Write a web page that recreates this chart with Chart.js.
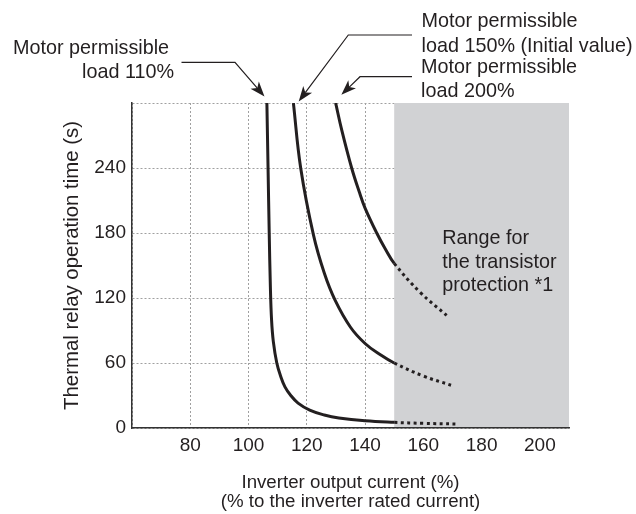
<!DOCTYPE html>
<html>
<head>
<meta charset="utf-8">
<script src="https://cdn.jsdelivr.net/npm/chart.js@4.4.1/dist/chart.umd.min.js"></script>
<style>
  html, body { margin: 0; padding: 0; background: #fff; }
</style>
</head>
<body>
<canvas id="thermalChart" width="636" height="514"></canvas>
<script>
// 軸の目盛り
const xTicks = [80, 100, 120, 140, 160, 180, 200];
const yTicks = [0, 60, 120, 180, 240, 300];

// 各曲線: [出力電流 %, 動作時間 s]  (150%以降は点線)
const load110 = [[106.3, 300], [106.7, 240], [107.1, 180], [107.5, 130], [107.9, 100], [108.5, 80],
  [109.7, 60], [111, 48], [112.5, 38], [114.5, 30], [117, 23], [121, 16.5], [126, 12],
  [131, 9.2], [140, 6.6], [150, 5.2], [160, 4.3], [171, 3.7]];
const load150 = [[115.4, 300], [117.9, 240], [122.3, 178], [126, 143], [129.7, 118], [135, 93],
  [140, 78], [145, 68], [150, 60], [160, 48], [169.5, 39.5]];
const load200 = [[129.9, 300], [132, 275], [135.4, 240], [138, 218], [140, 203], [144, 180],
  [147, 165], [150, 152], [159, 125], [168, 104]];

const protectionStart = 150;
const protectionEnd = 210;

const FONT = '"Liberation Sans", Arial, Helvetica, sans-serif';
const NOTE_SIZE = 19.8;
const INK = '#231f20';

function toPoints(arr) {
  return arr.map(p => ({ x: p[0], y: p[1] }));
}

function curve(label, arr) {
  return {
    label: label,
    data: toPoints(arr),
    borderColor: INK,
    borderWidth: 3,
    pointRadius: 0,
    fill: false,
    tension: 0.4,
    segment: {
      borderDash: c => c.p0.parsed.x >= protectionStart ? [3, 3.5] : undefined
    }
  };
}

// 矢印付き引き出し線
function drawArrow(ctx, pts) {
  const n = pts.length;
  const [x1, y1] = pts[n - 2];
  const [x2, y2] = pts[n - 1];
  const ang = Math.atan2(y2 - y1, x2 - x1);
  const len = 15, half = 5.5, notch = 11;
  const cos = Math.cos(ang), sin = Math.sin(ang);

  ctx.beginPath();
  ctx.moveTo(pts[0][0], pts[0][1]);
  for (let i = 1; i < n - 1; i++) ctx.lineTo(pts[i][0], pts[i][1]);
  ctx.lineTo(x2 - notch * cos, y2 - notch * sin);
  ctx.stroke();

  ctx.beginPath();
  ctx.moveTo(x2, y2);
  ctx.lineTo(x2 - len * cos + half * sin, y2 - len * sin - half * cos);
  ctx.lineTo(x2 - notch * cos, y2 - notch * sin);
  ctx.lineTo(x2 - len * cos - half * sin, y2 - len * sin + half * cos);
  ctx.closePath();
  ctx.fill();
}

const bandPlugin = {
  id: 'protectionBand',
  beforeDatasetsDraw(chart) {
    const { ctx, scales: { x, y } } = chart;
    const left = x.getPixelForValue(protectionStart);
    const right = x.getPixelForValue(protectionEnd);
    const top = y.getPixelForValue(yTicks[yTicks.length - 1]);
    const bottom = y.getPixelForValue(0);
    ctx.save();
    ctx.fillStyle = '#d1d2d4';
    ctx.fillRect(left, top, right - left, bottom - top);
    ctx.fillStyle = INK;
    ctx.font = NOTE_SIZE + 'px ' + FONT;
    ctx.textBaseline = 'alphabetic';
    ctx.textAlign = 'left';
    ctx.fillText('Range for', left + 48, 244);
    ctx.fillText('the transistor', left + 48, 267.5);
    ctx.fillText('protection *1', left + 48, 291);
    ctx.restore();
  }
};

const notePlugin = {
  id: 'curveNotes',
  afterDraw(chart) {
    const { ctx, scales: { x, y } } = chart;
    const topY = y.getPixelForValue(300);
    const top110 = x.getPixelForValue(load110[0][0]);
    const top150 = x.getPixelForValue(load150[0][0]);
    const top200 = x.getPixelForValue(load200[0][0]);

    ctx.save();
    ctx.fillStyle = INK;
    ctx.font = NOTE_SIZE + 'px ' + FONT;
    ctx.textAlign = 'left';
    ctx.textBaseline = 'alphabetic';
    ctx.fillText('Motor permissible', 13, 54);
    ctx.fillText('load 110%', 82, 77.5);
    ctx.fillText('Motor permissible', 421.5, 27);
    ctx.fillText('load 150% (Initial value)', 421.5, 51.5);
    ctx.fillText('Motor permissible', 421, 73);
    ctx.fillText('load 200%', 421, 97);

    ctx.strokeStyle = INK;
    ctx.lineWidth = 1.2;
    drawArrow(ctx, [[181.5, 62.3], [235, 62.3], [top110 - 2.4, topY - 6.6]]);
    drawArrow(ctx, [[412, 35], [348.3, 35], [top150 + 5.3, topY - 1.6]]);
    drawArrow(ctx, [[412, 76.7], [360, 76.7], [top200 + 5.7, topY - 8.3]]);
    ctx.restore();
  }
};

const ctx = document.getElementById('thermalChart').getContext('2d');
new Chart(ctx, {
  type: 'line',
  data: {
    datasets: [
      curve('Motor permissible load 110%', load110),
      curve('Motor permissible load 150%', load150),
      curve('Motor permissible load 200%', load200)
    ]
  },
  options: {
    responsive: false,
    animation: false,
    devicePixelRatio: 1,
    layout: { padding: { top: 103, right: 67, left: 0, bottom: 0 } },
    plugins: {
      legend: { display: false },
      tooltip: { enabled: false }
    },
    scales: {
      x: {
        type: 'linear',
        min: 60,
        max: protectionEnd,
        afterBuildTicks: axis => { axis.ticks = [60].concat(xTicks).map(v => ({ value: v })); },
        afterFit: scale => { scale.height = 86; },
        grid: { color: '#a0a0a0', lineWidth: 1, drawTicks: false },
        border: { color: '#333', width: 1.5, dash: [2, 2], z: 1 },
        ticks: {
          color: INK,
          padding: 6,
          maxRotation: 0,
          font: { family: FONT, size: 19 },
          callback: v => (v === 60 ? '' : v)
        },
        title: {
          display: true,
          text: ['Inverter output current (%)', '(% to the inverter rated current)'],
          color: INK,
          font: { family: FONT, size: 18.7, lineHeight: 1 },
          padding: { top: 0, bottom: 3 }
        }
      },
      y: {
        type: 'linear',
        min: 0,
        max: 300,
        afterBuildTicks: axis => { axis.ticks = yTicks.map(v => ({ value: v })); },
        afterFit: scale => { scale.width = 132; },
        grid: { color: '#a0a0a0', lineWidth: 1, drawTicks: false },
        border: { color: '#333', width: 1.5, dash: [2, 2], z: 1 },
        ticks: {
          color: INK,
          padding: 6,
          font: { family: FONT, size: 19 },
          callback: v => (v === 300 ? '' : v)
        },
        title: {
          display: true,
          text: 'Thermal relay operation time (s)',
          color: INK,
          font: { family: FONT, size: 20.4 },
          padding: { top: 60, bottom: 0 }
        }
      }
    }
  },
  plugins: [bandPlugin, notePlugin]
});
</script>
</body>
</html>
